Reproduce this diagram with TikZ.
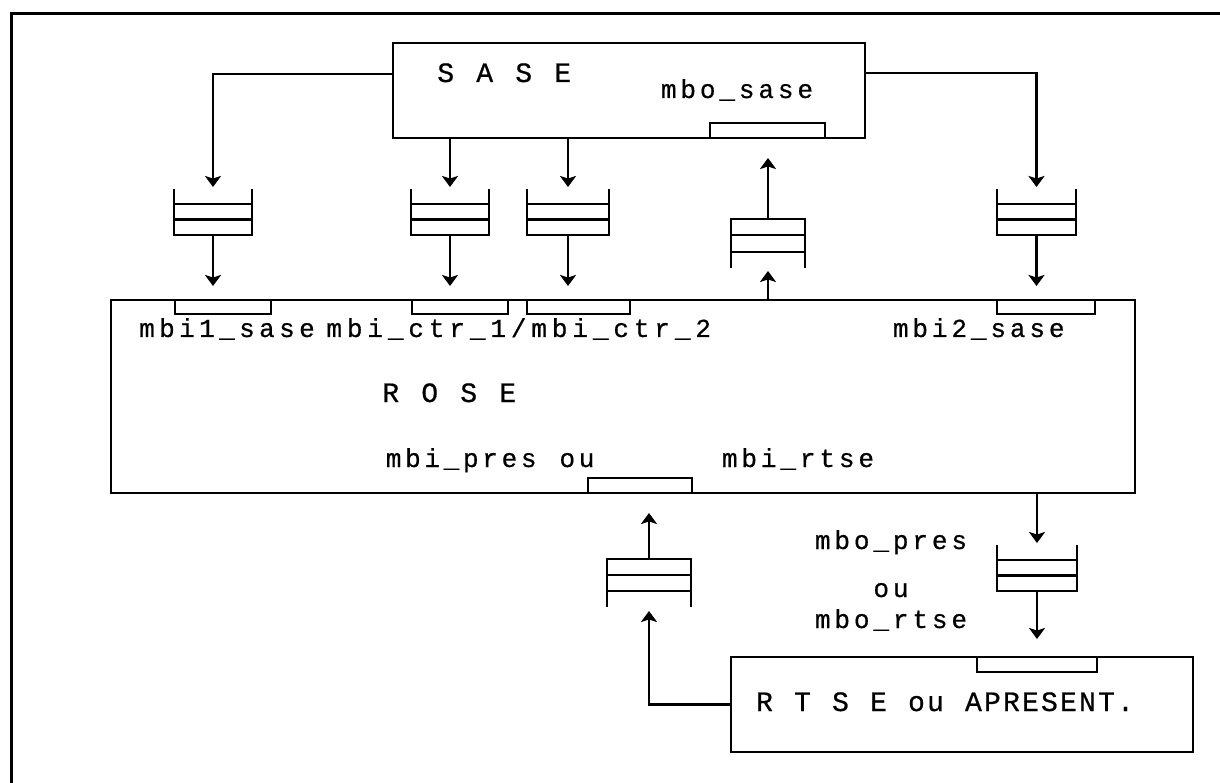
\documentclass[tikz,border=0pt]{standalone}
\usepackage{fontspec}
\newfontfamily\plotfont[FakeBold=0.6]{Liberation Mono}
\usetikzlibrary{arrows.meta,calc}
\ExplSyntaxOn
\NewDocumentCommand\mono{O{19.5pt}m}{\str_map_inline:nn{#2}{\makebox[#1]{##1}}}
\ExplSyntaxOff
\tikzset{
  box/.style={draw, line width=2.6pt, inner sep=0pt, outer sep=0pt},
  port/.style={draw, line width=2.3pt, inner sep=0pt, outer sep=0pt},
  qnode/.style={inner sep=0pt, outer sep=0pt},
  qline/.style={line width=2.3pt},
  lbl/.style={font=\plotfont\fontsize{26}{28}\selectfont, inner sep=0pt, outer sep=0pt, anchor=base west},
  capslbl/.style={font=\plotfont\fontsize{28}{30}\selectfont, inner sep=0pt, outer sep=0pt, anchor=base west},
  clbl/.style={font=\plotfont\fontsize{26}{28}\selectfont, inner sep=0pt, outer sep=0pt, anchor=base},
  conn/.style={line width=2.2pt, -{Stealth[length=11pt,width=16pt,inset=2.5pt]}},
  frameline/.style={line width=3pt}
}
\newcommand\queuedown[1]{%
  \draw[qline] (#1.north west) -- (#1.south west) -- (#1.south east) -- (#1.north east);
  \draw[qline] ($(#1.north west)!0.33!(#1.south west)$) -- ($(#1.north east)!0.33!(#1.south east)$);
  \draw[qline] ($(#1.north west)!0.66!(#1.south west)$) -- ($(#1.north east)!0.66!(#1.south east)$);}
\newcommand\queueup[1]{%
  \draw[qline] (#1.south west) -- (#1.north west) -- (#1.north east) -- (#1.south east);
  \draw[qline] ($(#1.north west)!0.33!(#1.south west)$) -- ($(#1.north east)!0.33!(#1.south east)$);
  \draw[qline] ($(#1.north west)!0.67!(#1.south west)$) -- ($(#1.north east)!0.67!(#1.south east)$);}
\begin{document}
\begin{tikzpicture}[x=1pt,y=-1pt]
\useasboundingbox (0,0) rectangle (1220,783);
% frame (top and left edges only)
\coordinate (fbl) at (11,783);
\coordinate (ftl) at (11,14);
\coordinate (ftr) at (1220,14);
\draw[frameline] (fbl) -- (ftl) -- (ftr);

% main boxes
\node[box, minimum width=472pt, minimum height=95pt] (sase) at (629,90.5) {};
\node[box, minimum width=1024pt, minimum height=193pt] (rose) at (623,396.5) {};
\node[box, minimum width=462pt, minimum height=95pt] (rtse) at (962,704.5) {};

% ports
\node[port, minimum width=115pt, minimum height=15pt] (pmbo) at (767.5,130.5) {};
\node[port, minimum width=96pt, minimum height=14pt] (pmbi1) at (223,307) {};
\node[port, minimum width=96pt, minimum height=14pt] (pctr1) at (460,307) {};
\node[port, minimum width=103pt, minimum height=14pt] (pctr2) at (578.5,307) {};
\node[port, minimum width=98pt, minimum height=14pt] (pmbi2) at (1046,307) {};
\node[port, minimum width=104pt, minimum height=15pt] (ppres) at (640,485.5) {};
\node[port, minimum width=120pt, minimum height=15pt] (prtse) at (1037,664.5) {};

% queues
\node[qnode, minimum width=78pt, minimum height=46pt] (q1) at (213,212) {};
\node[qnode, minimum width=78pt, minimum height=46pt] (q2) at (450,212) {};
\node[qnode, minimum width=82pt, minimum height=46pt] (q3) at (568,212) {};
\node[qnode, minimum width=74pt, minimum height=49pt] (q4) at (768,243.5) {};
\node[qnode, minimum width=79pt, minimum height=46pt] (q5) at (1036.5,212) {};
\node[qnode, minimum width=80pt, minimum height=46pt] (q6) at (1037,568) {};
\node[qnode, minimum width=84pt, minimum height=48pt] (q7) at (649,583) {};
\queuedown{q1}
\queuedown{q2}
\queuedown{q3}
\queueup{q4}
\queuedown{q5}
\queuedown{q6}
\queueup{q7}

% connectors
\draw[conn] ($(sase.north west)!0.33!(sase.south west)$) -| ([yshift=2pt]q1.north);
\draw[conn, shorten >=14pt] (q1.south) -- (q1.south |- rose.north);
\draw[conn, shorten >=2pt] (sase.south -| q2) -- (q2.north);
\draw[conn, shorten >=14pt] (q2.south) -- (q2.south |- rose.north);
\draw[conn, shorten >=2pt] (sase.south -| q3) -- (q3.north);
\draw[conn, shorten >=14pt] (q3.south) -- (q3.south |- rose.north);
\draw[conn, shorten >=20pt] (q4.north) -- (q4.north |- sase.south);
\draw[conn, shorten >=3pt] (rose.north -| q4) -- (q4.south);
\draw[conn] ($(sase.north east)!0.32!(sase.south east)$) -| ([yshift=2pt]q5.north);
\draw[conn, shorten >=14pt] (q5.south) -- (q5.south |- rose.north);
\draw[conn, shorten >=2pt] (rose.south -| q6) -- (q6.north);
\draw[conn, shorten >=18pt] (q6.south) -- (q6.south |- rtse.north);
\draw[conn, shorten >=20pt] (q7.north) -- (q7.north |- rose.south);
\draw[conn, shorten >=4pt] (rtse.west) -| (q7.south);

% labels
\node[capslbl] (tsase) at (436,82) {\mono{S A S E}};
\node[lbl] (tmbo) at (659,98) {\mono{mbo_sase}};
\node[lbl] (tmbi1) at (137,337) {\mono[20pt]{mbi1_sase}};
\node[lbl] (tctr) at (324,337) {\mono[20.5pt]{mbi_ctr_1/mbi_ctr_2}};
\node[lbl] (tmbi2) at (891,337) {\mono{mbi2_sase}};
\node[capslbl] (trose) at (381,402) {\mono{R O S E}};
\node[lbl] (tpres) at (384,467) {\mono[19.3pt]{mbi_pres ou}};
\node[lbl] (trtse) at (720,467) {\mono{mbi_rtse}};
\node[clbl] (tmbopres) at (891,549) {\mono{mbo_pres}};
\node[clbl] (tou) at (891,597) {\mono{ou}};
\node[clbl] (tmbortse) at (891,628) {\mono{mbo_rtse}};
\node[capslbl] (trtsetext) at (755,711) {\mono[19pt]{R T S E ou APRESENT.}};
\end{tikzpicture}
\end{document}
